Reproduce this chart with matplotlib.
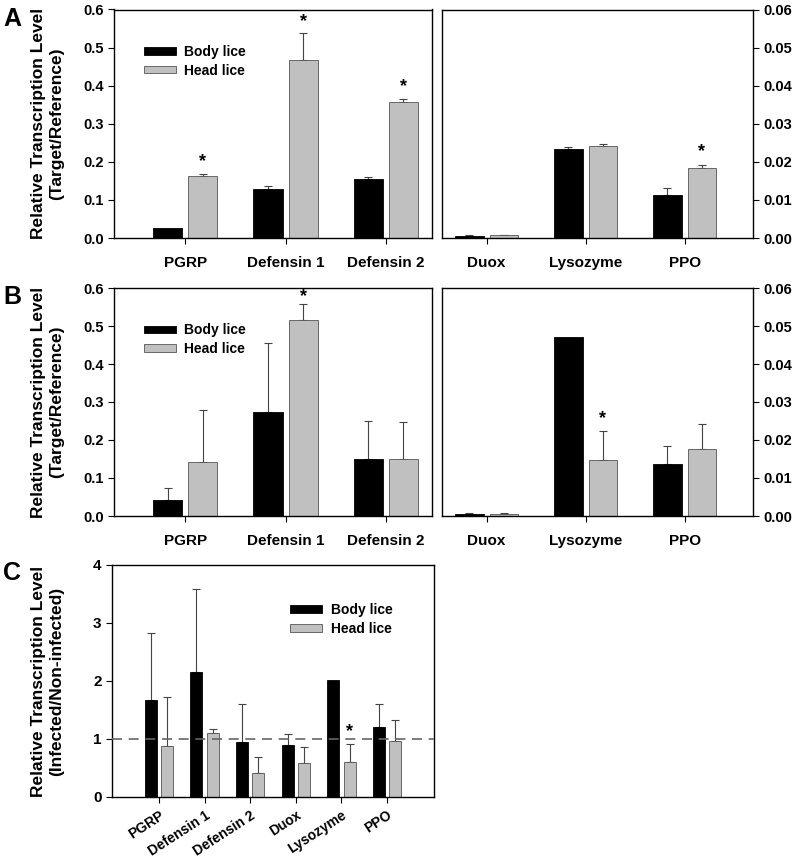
import matplotlib
matplotlib.use("Agg")
import numpy as np
import matplotlib.pyplot as plt

plt.rcParams['font.family'] = ['Liberation Sans', 'DejaVu Sans']
plt.rcParams['font.weight'] = 'bold'

# ---- data ----
genes_left = ["PGRP", "Defensin 1", "Defensin 2"]
genes_right = ["Duox", "Lysozyme", "PPO"]
genes_all = genes_left + genes_right

# Panel A (Target/Reference, non-infected)
a_body_left = [0.026, 0.128, 0.156]
a_body_left_err = [0.0, 0.009, 0.004]
a_head_left = [0.162, 0.468, 0.357]
a_head_left_err = [0.007, 0.071, 0.009]
a_body_right = [0.0006, 0.0233, 0.0114]
a_body_right_err = [0.0001, 0.0006, 0.0017]
a_head_right = [0.0007, 0.0242, 0.0183]
a_head_right_err = [0.0001, 0.0005, 0.0009]

# Panel B (Target/Reference, infected)
b_body_left = [0.042, 0.273, 0.151]
b_body_left_err = [0.031, 0.182, 0.100]
b_head_left = [0.142, 0.516, 0.150]
b_head_left_err = [0.137, 0.042, 0.097]
b_body_right = [0.0005, 0.0470, 0.0136]
b_body_right_err = [0.0004, 0.0, 0.0047]
b_head_right = [0.0004, 0.0148, 0.0176]
b_head_right_err = [0.0003, 0.0075, 0.0067]

# Panel C (Infected/Non-infected)
c_body = [1.67, 2.16, 0.95, 0.89, 2.01, 1.20]
c_body_err = [1.15, 1.42, 0.65, 0.19, 0.0, 0.40]
c_head = [0.88, 1.10, 0.42, 0.59, 0.61, 0.97]
c_head_err = [0.85, 0.08, 0.27, 0.28, 0.31, 0.35]

# significance marks on head lice bars (index)
a_star_left = [0, 1, 2]
a_star_right = [2]
b_star_left = [1]
b_star_right = [1]
c_star = [4]

BLACK = "black"
GRAY = "#c0c0c0"
ERR = "#444444"

W, H = 800, 858
fig = plt.figure(figsize=(W / 100, H / 100), dpi=100)


def px_axes(x0, y0, x1, y1):
    return fig.add_axes([x0 / W, 1 - y1 / H, (x1 - x0) / W, (y1 - y0) / H])


def bars(ax, body, body_err, head, head_err, off=0.175, width=0.29, stars=(), star_gap=0.0):
    x = np.arange(len(body))
    ax.bar(x - off, body, width, color=BLACK, edgecolor=BLACK, linewidth=0.6,
           label="Body lice", zorder=2)
    ax.bar(x + off, head, width, color=GRAY, edgecolor="#555555", linewidth=0.6,
           label="Head lice", zorder=2)
    for xs, ys, es in [(x - off, body, body_err), (x + off, head, head_err)]:
        for xi, yi, ei in zip(xs, ys, es):
            if ei > 0:
                ax.errorbar(xi, yi, yerr=[[0], [ei]], fmt="none", ecolor=ERR,
                            elinewidth=0.8, capsize=3, capthick=0.8, zorder=1)
    for i in stars:
        ax.text(x[i] + off, head[i] + head_err[i] + star_gap, "*", ha="center",
                va="bottom", fontsize=13, fontweight="bold")
    ax.set_xticks(x)
    ax.tick_params(direction="out", length=4, width=0.8, labelsize=10.5)
    for s in ax.spines.values():
        s.set_linewidth(1.0)


def setup_pair(y0, y1, data, stars_l, stars_r, letter, gap_l=0.008):
    (bl, ble, hl, hle, br, bre, hr, hre) = data
    axl = px_axes(114, y0, 432, y1)
    bars(axl, bl, ble, hl, hle, stars=stars_l, star_gap=gap_l)
    axl.set_xlim(-0.71, 2.46)
    axl.set_ylim(0, 0.6)
    axl.set_yticks(np.arange(0, 0.61, 0.1))
    axl.set_yticklabels([f"{v:.1f}" for v in np.arange(0, 0.61, 0.1)])
    axl.set_xticklabels(genes_left, fontsize=11)
    axl.tick_params(axis="x", pad=9)
    axl.legend(loc="upper left", bbox_to_anchor=(0.055, 0.9), frameon=False,
               fontsize=10, handlelength=2.3, handleheight=0.45,
               handletextpad=0.6, labelspacing=0.35)

    axr = px_axes(442, y0, 753, y1)
    bars(axr, br, bre, hr, hre, stars=stars_r, star_gap=0.0012)
    axr.set_xlim(-0.45, 2.69)
    axr.set_ylim(0, 0.06)
    axr.set_yticks(np.arange(0, 0.061, 0.01))
    axr.set_yticklabels([f"{v:.2f}" for v in np.arange(0, 0.061, 0.01)])
    axr.yaxis.tick_right()
    axr.set_xticklabels(genes_right, fontsize=11)
    axr.tick_params(axis="x", pad=9)

    fig.text(48 / W, 1 - (y0 + y1) / 2 / H,
             "Relative Transcription Level\n(Target/Reference)",
             rotation=90, ha="center", va="center", fontsize=12.5,
             fontweight="bold", multialignment="center", linespacing=1.25)
    fig.text(3 / W, 1 - (y0 - 3) / H, letter, fontsize=18,
             fontweight="bold", va="top", ha="left")


setup_pair(9.5, 238, (a_body_left, a_body_left_err, a_head_left, a_head_left_err,
                      a_body_right, a_body_right_err, a_head_right, a_head_right_err),
           a_star_left, a_star_right, "A")
setup_pair(288, 516, (b_body_left, b_body_left_err, b_head_left, b_head_left_err,
                      b_body_right, b_body_right_err, b_head_right, b_head_right_err),
           b_star_left, b_star_right, "B", gap_l=-0.004)

# ---- panel C ----
axc = px_axes(112, 565, 434, 797)
bars(axc, c_body, c_body_err, c_head, c_head_err, off=0.18, width=0.26,
     stars=c_star, star_gap=0.06)
axc.set_xlim(-1.03, 6.03)
axc.set_ylim(0, 4)
axc.set_yticks([0, 1, 2, 3, 4])
axc.axhline(1, color="#666666", linestyle=(0, (6, 4)), linewidth=1.2, zorder=3)
axc.set_xticklabels(genes_all, fontsize=10, rotation=33, ha="right",
                    rotation_mode="anchor")
axc.tick_params(axis="x", pad=4)
axc.tick_params(axis="y", labelsize=11)
axc.legend(loc="upper left", bbox_to_anchor=(0.515, 0.89), frameon=False,
           fontsize=10, handlelength=2.3, handleheight=0.45,
           handletextpad=0.6, labelspacing=0.35)
fig.text(48 / W, 1 - 681 / H,
         "Relative Transcription Level\n(Infected/Non-infected)",
         rotation=90, ha="center", va="center", fontsize=12.5,
         fontweight="bold", multialignment="center", linespacing=1.25)
fig.text(3 / W, 1 - 561 / H, "C", fontsize=18, fontweight="bold",
         va="top", ha="left")

fig.savefig("out.png", dpi=100)
